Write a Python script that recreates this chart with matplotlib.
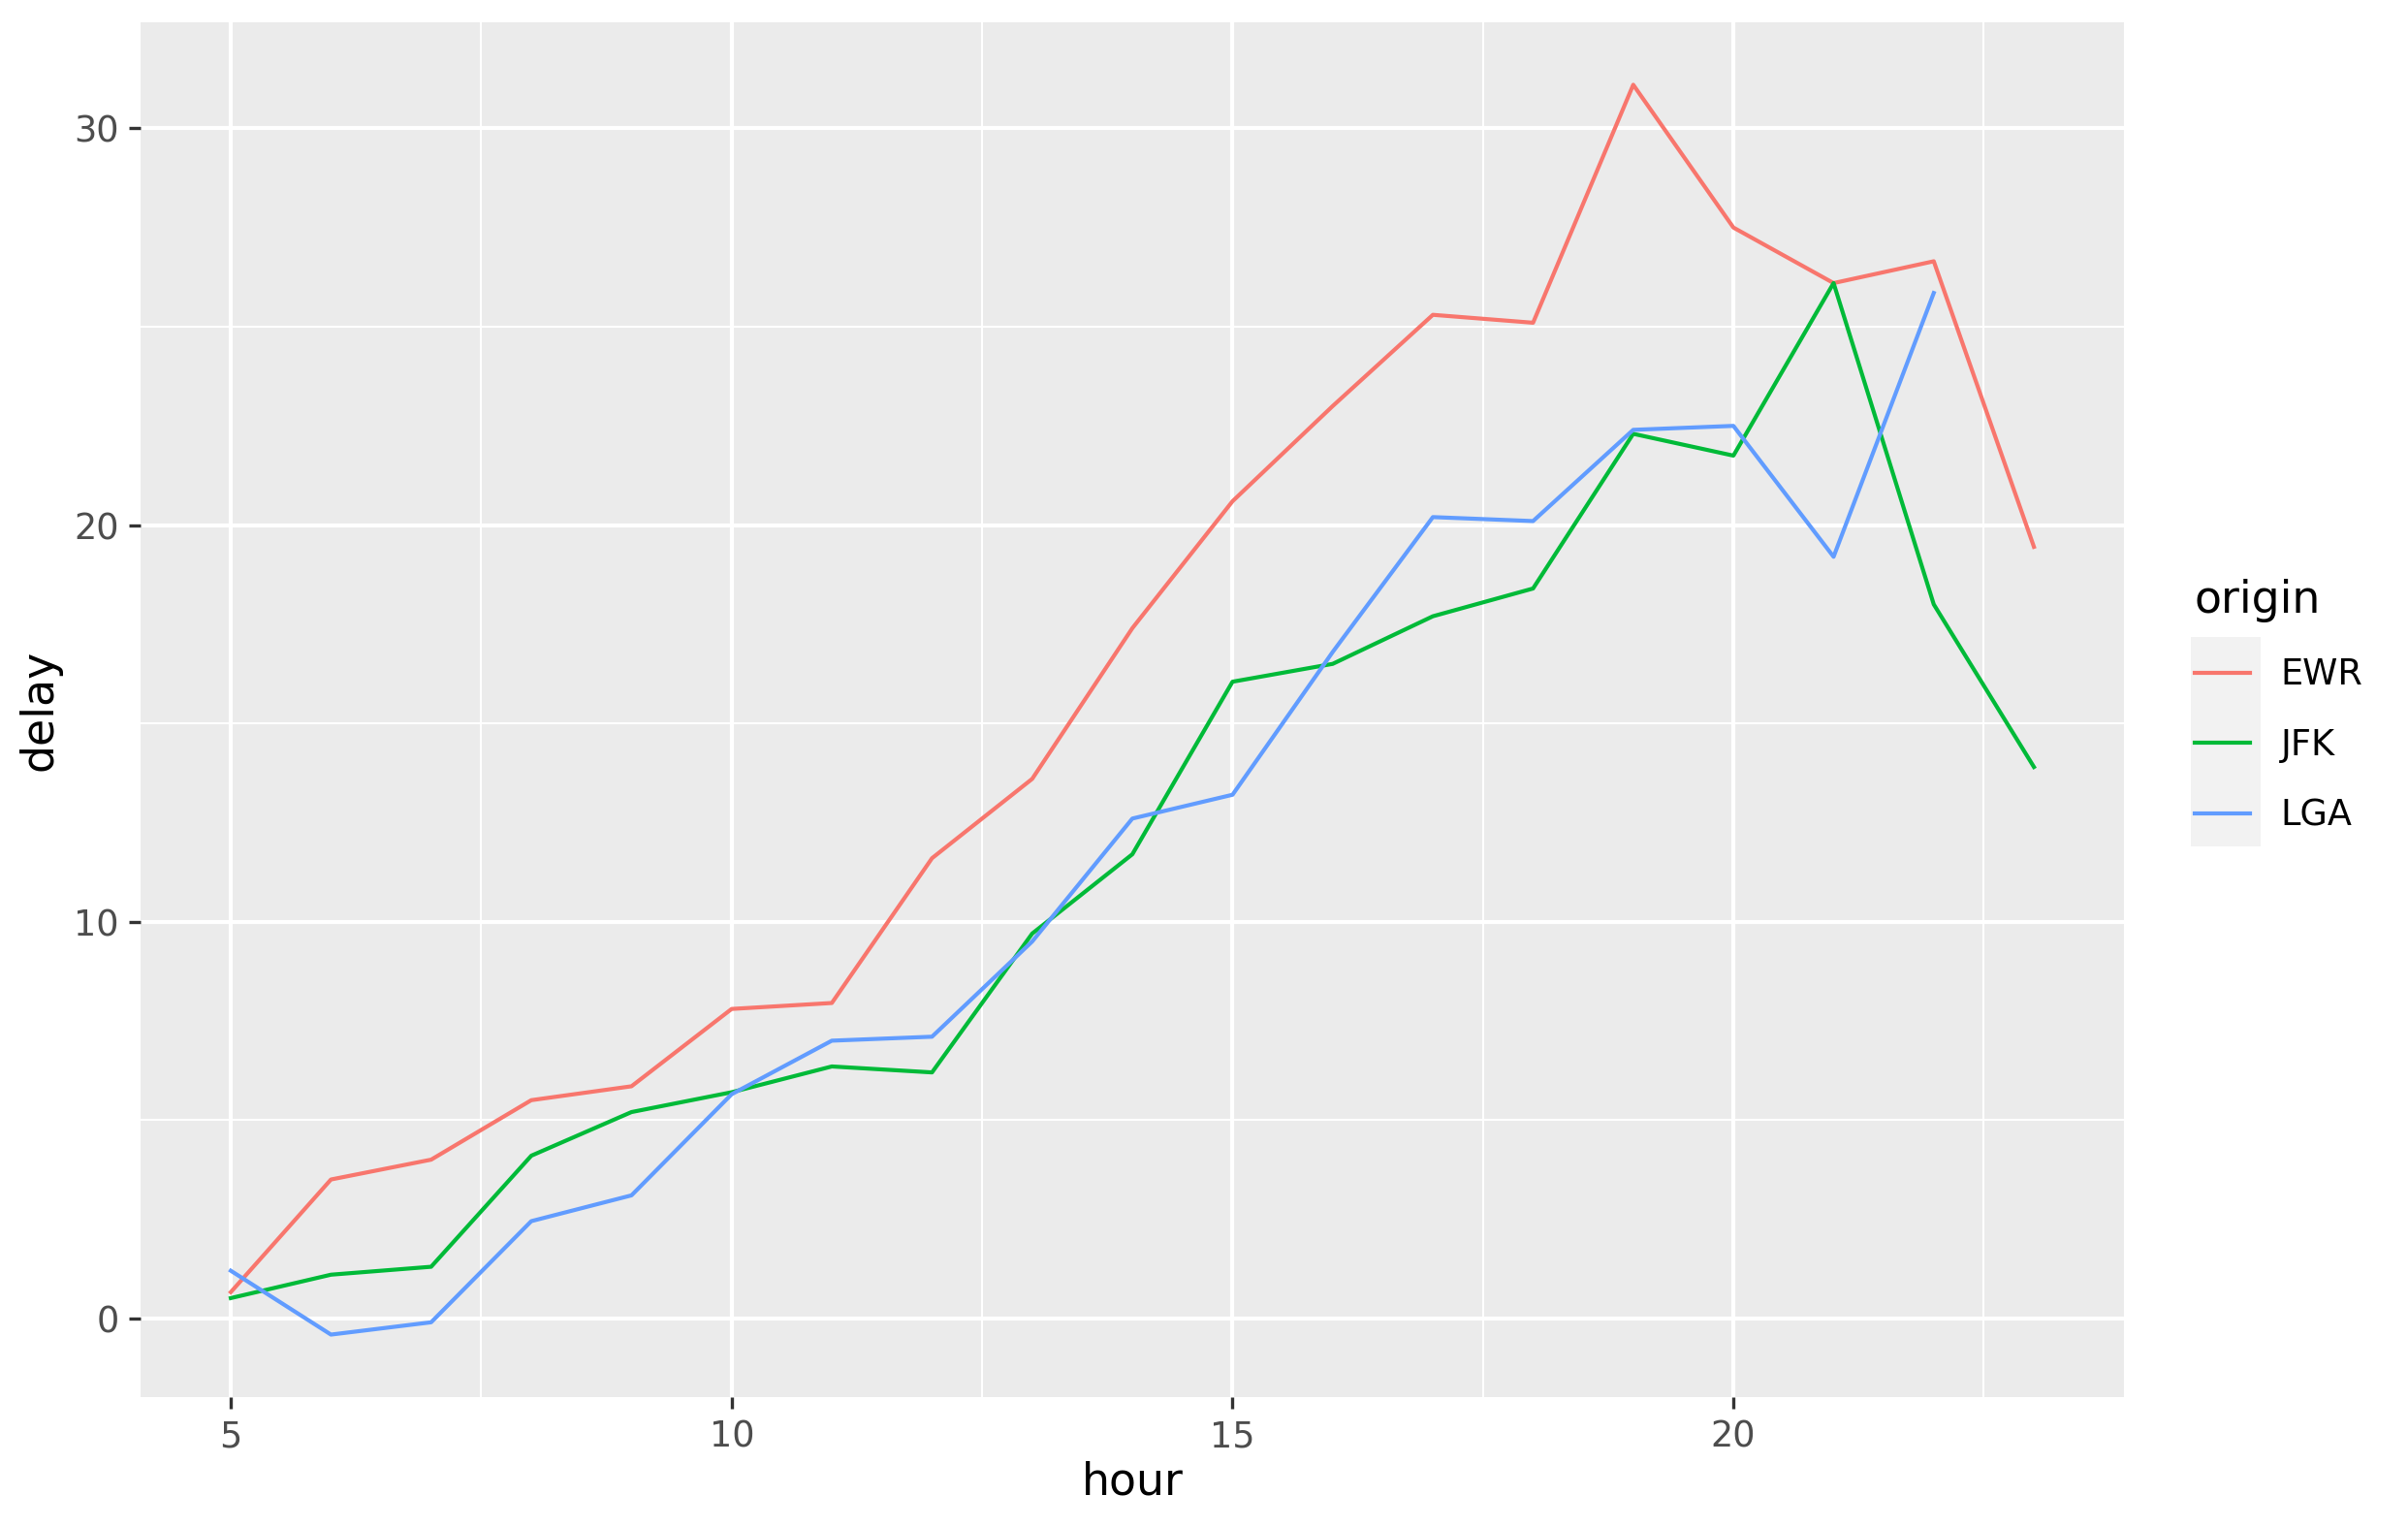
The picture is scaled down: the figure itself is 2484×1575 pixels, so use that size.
import matplotlib
matplotlib.use("Agg")
import matplotlib.pyplot as plt
from matplotlib.patches import Rectangle

# mean departure delay by hour, per origin airport
hours = list(range(5, 24))
ewr = [0.66, 3.5, 4.0, 5.5, 5.85, 7.8, 7.95, 11.6, 13.6, 17.4, 20.6, 23.0,
       25.3, 25.1, 31.1, 27.5, 26.1, 26.65, 19.45]
jfk = [0.51, 1.1, 1.3, 4.1, 5.2, 5.7, 6.35, 6.2, 9.7, 11.7, 16.05, 16.5,
       17.7, 18.4, 22.3, 21.75, 26.1, 18.0, 13.9]
lga_hours = list(range(5, 23))
lga = [1.2, -0.41, -0.1, 2.45, 3.1, 5.65, 7.0, 7.1, 9.5, 12.6, 13.2, 16.8,
       20.2, 20.1, 22.4, 22.5, 19.2, 25.85]

origins = ["EWR", "JFK", "LGA"]
colors = ["#F8766D", "#00BA38", "#619CFF"]

fig = plt.figure(figsize=(8.28, 5.25), dpi=300)
ax = fig.add_axes([0.0584, 0.0851, 0.8237, 0.9003])
ax.set_facecolor("#EBEBEB")

lines = []
for xs, ys, c in zip([hours, hours, lga_hours], [ewr, jfk, lga], colors):
    ln, = ax.plot(xs, ys, color=c, lw=1.0, solid_joinstyle="round")
    lines.append(ln)

ax.set_xlim(4.1, 23.9)
ax.set_ylim(-1.985, 32.675)
ax.set_xticks([5, 10, 15, 20])
ax.set_yticks([0, 10, 20, 30])
ax.set_xticks([7.5, 12.5, 17.5, 22.5], minor=True)
ax.set_yticks([5, 15, 25], minor=True)
ax.grid(True, which="major", color="white", lw=1.0)
ax.grid(True, which="minor", color="white", lw=0.5)
ax.set_axisbelow(True)
for s in ax.spines.values():
    s.set_visible(False)
ax.tick_params(which="major", length=2.8, width=0.8, color="#333333",
               labelsize=8.8, labelcolor="#4D4D4D", pad=2.5)
ax.tick_params(which="minor", length=0)
ax.set_xlabel("hour", fontsize=11, labelpad=1.6)
ax.set_ylabel("delay", fontsize=11, labelpad=3)

# grey key background like ggplot
fig.patches.append(Rectangle((0.9098, 0.4457), 0.029, 0.1372,
                             transform=fig.transFigure, facecolor="#F2F2F2",
                             edgecolor="none", zorder=0))

leg = fig.legend(lines, origins, title="origin", loc="center left",
                 bbox_to_anchor=(0.898, 0.5377), frameon=False, fontsize=8.8,
                 title_fontsize=11, handlelength=1.56, handletextpad=0.87,
                 labelspacing=0.97)
leg._legend_box.align = "left"
leg.set_zorder(5)

fig.savefig("out.png", dpi=300)
